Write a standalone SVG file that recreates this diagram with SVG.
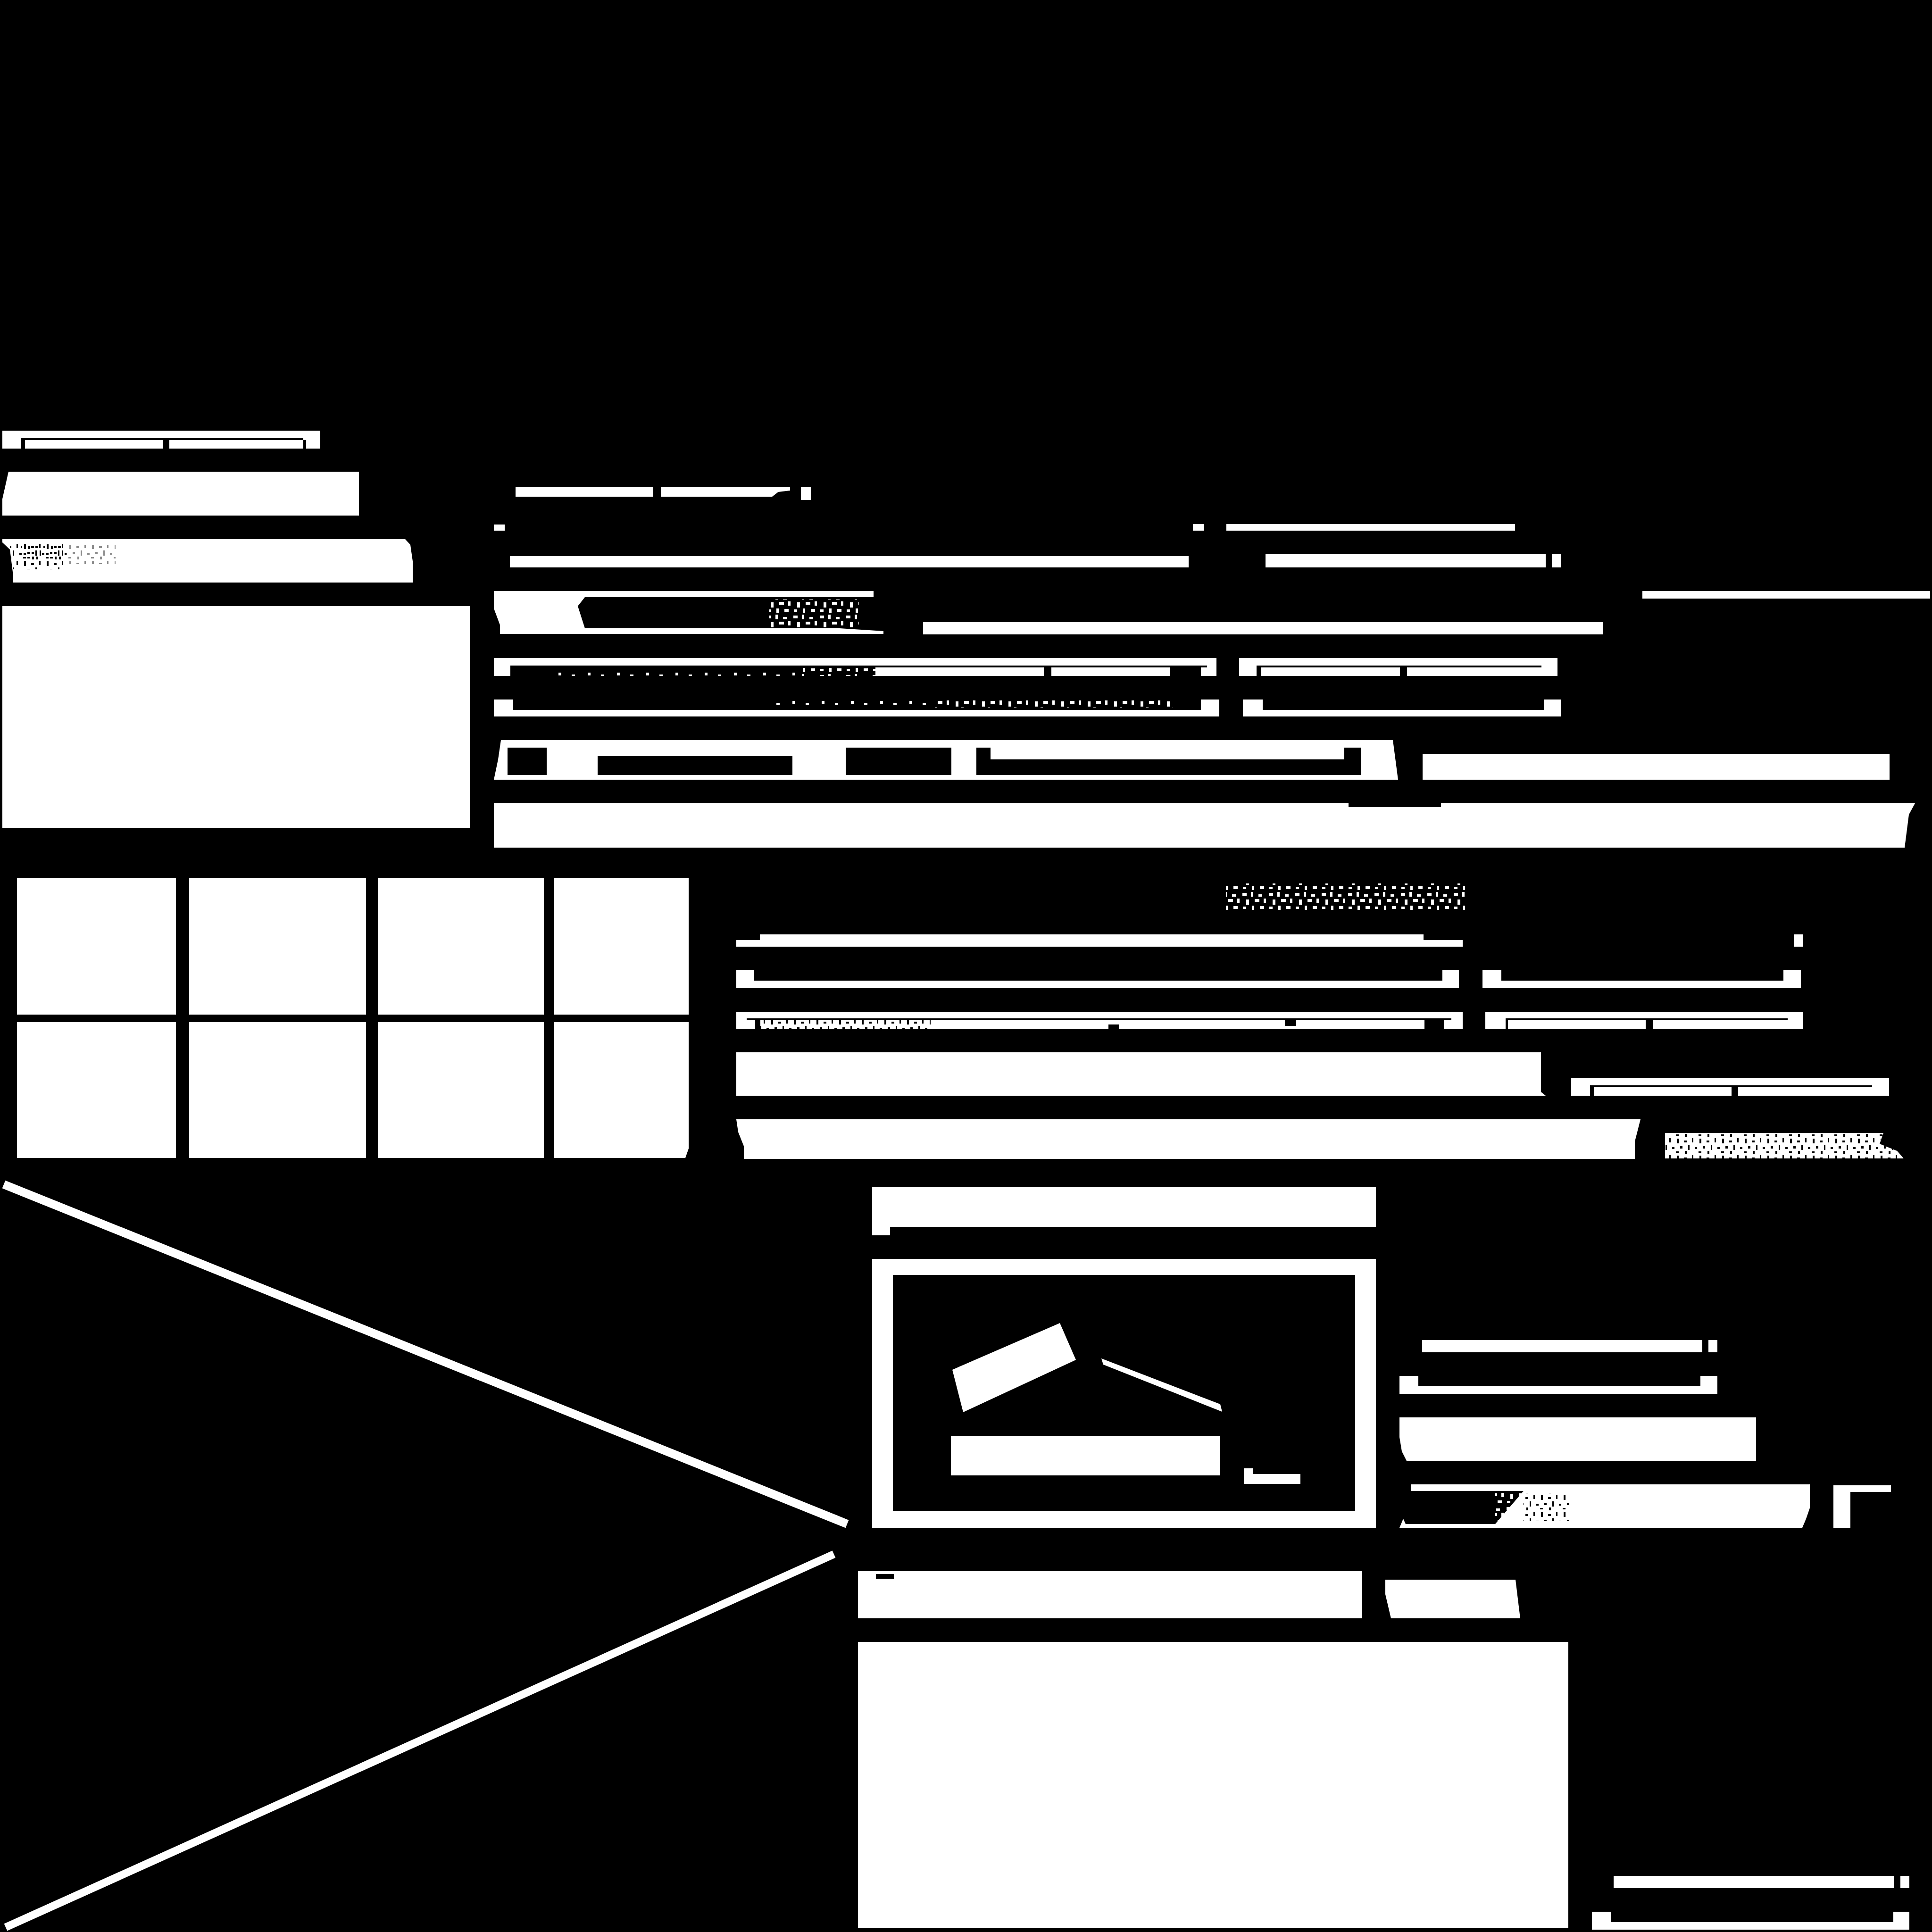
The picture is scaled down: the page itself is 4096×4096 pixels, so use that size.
<svg xmlns="http://www.w3.org/2000/svg" width="4096" height="4096" viewBox="0 0 4096 4096">
<style>
.w{fill:#fff}
.k{fill:#000}
.ln{fill:none;stroke:#fff}
</style>
<defs>
<pattern id="specW" width="56" height="42" patternUnits="userSpaceOnUse">
<rect x="2" y="3" width="9" height="6" fill="#fff"/><rect x="20" y="1" width="5" height="10" fill="#fff"/><rect x="36" y="6" width="8" height="5" fill="#fff"/>
<rect x="10" y="17" width="6" height="11" fill="#fff"/><rect x="28" y="16" width="10" height="6" fill="#fff"/><rect x="47" y="15" width="5" height="9" fill="#fff"/>
<rect x="3" y="32" width="7" height="5" fill="#fff"/><rect x="22" y="30" width="5" height="9" fill="#fff"/><rect x="39" y="31" width="9" height="6" fill="#fff"/>
</pattern>
<pattern id="specS" width="62" height="20" patternUnits="userSpaceOnUse">
<rect x="6" y="6" width="6" height="6" fill="#fff"/><rect x="34" y="10" width="7" height="5" fill="#fff"/>
</pattern>
<pattern id="specK" width="48" height="36" patternUnits="userSpaceOnUse">
<rect x="3" y="2" width="4" height="10" fill="#000"/><rect x="18" y="6" width="6" height="4" fill="#000"/><rect x="35" y="1" width="3" height="9" fill="#000"/>
<rect x="10" y="18" width="5" height="5" fill="#000"/><rect x="27" y="15" width="3" height="11" fill="#000"/><rect x="41" y="20" width="5" height="4" fill="#000"/>
<rect x="1" y="29" width="6" height="3" fill="#000"/><rect x="20" y="28" width="4" height="6" fill="#000"/>
</pattern>
</defs>
<rect class="k" width="4096" height="4096"/>

<g id="left-column">
<rect class="w" x="5" y="913" width="674" height="38"/>
<rect class="k" x="44" y="929" width="599" height="4"/>
<rect class="k" x="44" y="933" width="9" height="18"/>
<rect class="k" x="345" y="933" width="14" height="18"/>
<rect class="k" x="643" y="933" width="6" height="18"/>
<path class="w" d="M18 1000H761V1093H5V1058Z"/>
<path class="w" d="M5 1143H859L870 1155L875 1190V1235H27V1213L21 1165L5 1150Z"/>
<rect x="21" y="1150" width="120" height="57" fill="url(#specK)"/>
<rect x="30" y="1157" width="95" height="30" fill="url(#specK)" transform="translate(9 0)"/>
<rect x="125" y="1156" width="120" height="40" fill="url(#specK)" opacity="0.45"/>
<rect class="w" x="5" y="1285" width="991" height="470"/>
</g>

<g id="grid">
<rect class="w" x="36" y="1861" width="337" height="290"/>
<rect class="w" x="401" y="1861" width="375" height="290"/>
<rect class="w" x="801" y="1861" width="352" height="290"/>
<rect class="w" x="1175" y="1861" width="285" height="290"/>
<rect class="w" x="36" y="2167" width="337" height="288"/>
<rect class="w" x="401" y="2167" width="375" height="288"/>
<rect class="w" x="801" y="2167" width="352" height="288"/>
<path class="w" d="M1175 2167H1460V2435L1453 2455H1175Z"/>
</g>

<g id="upper-right">
<rect class="w" x="1093" y="1033" width="292" height="20"/>
<path class="w" d="M1401 1033H1675V1040L1650 1043L1637 1053H1401Z"/>
<rect class="w" x="1698" y="1033" width="21" height="27"/>
<rect class="w" x="1047" y="1112" width="23" height="13"/>
<rect class="w" x="2529" y="1111" width="23" height="14"/>
<rect class="w" x="2600" y="1111" width="612" height="14"/>
<rect class="w" x="1081" y="1179" width="1439" height="24"/>
<rect class="w" x="2683" y="1175" width="594" height="28"/>
<rect class="w" x="3290" y="1175" width="20" height="28"/>
<rect class="w" x="3482" y="1253" width="610" height="16"/>
<path class="w" d="M1047 1253H1852V1266H1240L1225 1285L1240 1332H1780L1873 1338V1344H1060V1325L1047 1290Z"/>
<rect x="1631" y="1270" width="190" height="62" fill="url(#specW)"/>
<rect class="w" x="1957" y="1319" width="1442" height="26"/>

<rect class="w" x="1047" y="1395" width="1532" height="16"/>
<rect class="w" x="1047" y="1411" width="35" height="22"/>
<rect class="w" x="2559" y="1411" width="20" height="22"/>
<rect class="w" x="2546" y="1415" width="13" height="18"/>
<rect class="w" x="1856" y="1415" width="357" height="18"/>
<rect class="w" x="2229" y="1415" width="251" height="18"/>
<rect x="1700" y="1415" width="156" height="18" fill="url(#specW)"/>
<rect x="1160" y="1415" width="540" height="18" fill="url(#specS)"/>
<rect class="w" x="2627" y="1395" width="675" height="38"/>
<rect class="k" x="2664" y="1411" width="604" height="4"/>
<rect class="k" x="2664" y="1415" width="10" height="18"/>
<rect class="k" x="2968" y="1415" width="15" height="18"/>

<rect class="w" x="1047" y="1505" width="1538" height="14"/>
<rect class="w" x="1047" y="1483" width="41" height="22"/>
<rect class="w" x="2546" y="1483" width="39" height="22"/>
<rect x="1980" y="1483" width="507" height="18" fill="url(#specW)"/>
<rect x="1640" y="1483" width="340" height="18" fill="url(#specS)"/>
<rect class="w" x="2635" y="1505" width="675" height="14"/>
<rect class="w" x="2635" y="1483" width="42" height="22"/>
<rect class="w" x="3273" y="1483" width="37" height="22"/>

<path class="w" d="M1062 1569H2953L2964 1653H1047L1056 1610Z"/>
<rect class="k" x="1076" y="1585" width="83" height="58"/>
<rect class="k" x="1267" y="1603" width="413" height="40"/>
<rect class="k" x="1793" y="1585" width="224" height="58"/>
<path class="k" d="M2070 1585H2100V1610H2850V1585H2886V1643H2070Z"/>
<rect class="w" x="3016" y="1599" width="990" height="54"/>
<path class="w" d="M1047 1703H2859V1711H3055V1703H4060L4047 1727L4038 1797H1047Z"/>
</g>

<g id="middle-right">
<rect x="2599" y="1873" width="507" height="59" fill="url(#specW)"/>
<path class="w" d="M1611 1981H3018V1993H3101V2007H1561V1993H1611Z"/>
<rect class="w" x="3803" y="1981" width="20" height="26"/>
<rect class="w" x="1561" y="2079" width="1532" height="16"/>
<rect class="w" x="1561" y="2057" width="37" height="22"/>
<rect class="w" x="3058" y="2057" width="35" height="22"/>
<rect class="w" x="3143" y="2079" width="675" height="16"/>
<rect class="w" x="3143" y="2057" width="40" height="22"/>
<rect class="w" x="3781" y="2057" width="37" height="22"/>

<rect class="w" x="1561" y="2145" width="1540" height="36"/>
<rect class="k" x="1583" y="2159" width="1494" height="3"/>
<rect class="k" x="1601" y="2162" width="11" height="19"/>
<rect x="1612" y="2162" width="361" height="19" fill="url(#specK)"/>
<rect class="k" x="2350" y="2172" width="22" height="9"/>
<rect class="k" x="2724" y="2162" width="24" height="13"/>
<rect class="k" x="3020" y="2162" width="41" height="19"/>
<rect class="w" x="3149" y="2145" width="674" height="36"/>
<rect class="k" x="3192" y="2159" width="598" height="3"/>
<rect class="k" x="3192" y="2162" width="5" height="19"/>
<rect class="k" x="3489" y="2162" width="15" height="19"/>

<path class="w" d="M1561 2231H3267V2315L3277 2323H1561Z"/>
<rect class="w" x="3331" y="2285" width="674" height="38"/>
<rect class="k" x="3371" y="2301" width="598" height="4"/>
<rect class="k" x="3371" y="2305" width="8" height="18"/>
<rect class="k" x="3671" y="2305" width="14" height="18"/>
<path class="w" d="M1561 2373H3478L3466 2420V2457H1577V2430L1565 2400Z"/>
<path class="w" d="M3530 2402H3993L3985 2425L4022 2440L4036 2456H3530Z"/>
<path d="M3530 2402H3993L3985 2425L4022 2440L4036 2456H3530Z" fill="url(#specK)"/>
</g>

<g id="connectors">
<path class="ln" stroke-width="18" d="M8 2511L1796 3231"/>
<path class="ln" stroke-width="16.5" d="M1768 3295L12 4086"/>
</g>

<g id="lower-panel">
<rect class="w" x="1849" y="2517" width="1068" height="84"/>
<rect class="w" x="1849" y="2601" width="38" height="18"/>
<path class="w" fill-rule="evenodd" d="M1849 2669H2917V3239H1849ZM1893 2703V3204H2873V2703Z"/>
<path class="w" d="M2247 2805L2281 2883L2042 2994L2019 2904Z"/>
<path class="w" d="M2335 2880L2587 2977L2591 2993L2339 2893Z"/>
<rect class="w" x="2016" y="3045" width="570" height="83"/>
<path class="w" d="M2637 3113H2656V3125H2757V3146H2637Z"/>

<rect class="w" x="3015" y="2841" width="594" height="26"/>
<rect class="w" x="3622" y="2841" width="19" height="26"/>
<rect class="w" x="2967" y="2939" width="674" height="16"/>
<rect class="w" x="2967" y="2917" width="40" height="22"/>
<rect class="w" x="3605" y="2917" width="36" height="22"/>
<path class="w" d="M2967 3005H3723V3097H2982L2972 3077L2967 3047Z"/>
<path class="w" d="M2991 3147H3837V3197L3829 3220L3821 3239H2967L2975 3220L2980 3231H3170L3230 3161H2991Z"/>
<rect x="3170" y="3161" width="110" height="70" fill="url(#specW)"/>
<rect x="3230" y="3161" width="100" height="70" class="w"/>
<rect x="3230" y="3165" width="100" height="60" fill="url(#specK)"/>
<path class="w" d="M3887 3149H4009V3163H3923V3239H3887Z"/>

<rect class="w" x="1819" y="3331" width="1068" height="100"/>
<rect class="k" x="1857" y="3337" width="38" height="10"/>
<path class="w" d="M2937 3349H3213L3223 3431H2949L2937 3380Z"/>
<rect class="w" x="1819" y="3481" width="1506" height="607"/>
<rect class="w" x="3421" y="3977" width="595" height="26"/>
<rect class="w" x="4029" y="3977" width="19" height="26"/>
<rect class="w" x="3375" y="4075" width="673" height="16"/>
<rect class="w" x="3375" y="4053" width="40" height="22"/>
<rect class="w" x="4014" y="4053" width="34" height="22"/>
</g>
</svg>
